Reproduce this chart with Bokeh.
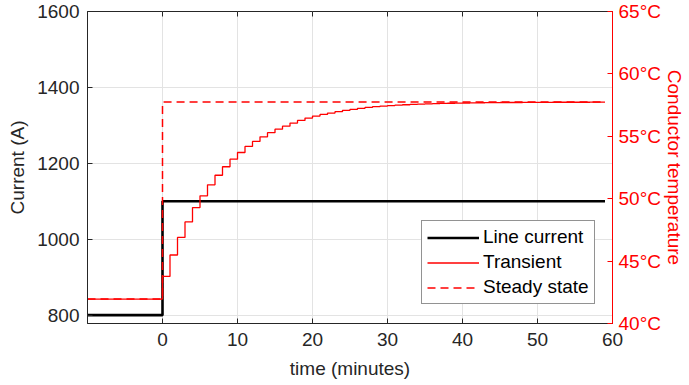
import math
from bokeh.plotting import figure
from bokeh.models import Range1d, LinearAxis, FixedTicker, PrintfTickFormatter, Legend, LegendItem
from bokeh.embed import file_html
from bokeh.resources import INLINE

# ---- data ----
x_ticks = [0, 10, 20, 30, 40, 50, 60]
current_ticks = [800, 1000, 1200, 1400, 1600]
temp_ticks = [40, 45, 50, 55, 60, 65]

current_times = [-10, 0, 59]
current_values = [800, 1100, 1100]

steady_times = [-10, 0, 59]
steady_temps = [41.96, 57.74, 57.74]

transient_times = [-10] + list(range(0, 60))
transient_temps = [41.96,
                   43.77, 45.49, 46.90, 48.14, 49.29, 50.23, 51.11, 51.88, 52.56, 53.17,
                   53.70, 54.19, 54.59, 54.96, 55.29, 55.57, 55.81, 56.06, 56.27, 56.46,
                   56.62, 56.75, 56.86, 56.97, 57.08, 57.16, 57.24, 57.31, 57.37, 57.42,
                   57.46, 57.50, 57.53, 57.56, 57.58, 57.60, 57.62, 57.64, 57.65, 57.66,
                   57.67, 57.68, 57.69, 57.70, 57.70, 57.71, 57.71, 57.71, 57.72, 57.72,
                   57.72, 57.72, 57.73, 57.73, 57.73, 57.73, 57.73, 57.74, 57.74, 57.74]

FONT = "Liberation Sans"
FS = "19px"
DARK = "#262626"
RED = "#ff0000"

x_lo, x_hi = -10, 60
y_lo, y_hi = 778, 1600

p = figure(width=689, height=385, x_range=Range1d(x_lo, x_hi), y_range=Range1d(y_lo, y_hi),
           output_backend="svg", toolbar_location=None,
           min_border_left=87, min_border_right=77, min_border_top=11, min_border_bottom=62)
p.extra_y_ranges = {"temp": Range1d(40, 65)}
p.outline_line_color = DARK
p.outline_line_width = 1
p.background_fill_color = "white"
p.border_fill_color = "white"

# bottom axis
xa = p.xaxis[0]
xa.ticker = FixedTicker(ticks=x_ticks)
xa.axis_label = "time (minutes)"
# left axis
ya = p.yaxis[0]
ya.ticker = FixedTicker(ticks=current_ticks)
ya.axis_label = "Current (A)"
for ax in (xa, ya):
    ax.major_tick_in = 5
    ax.major_tick_out = 0
    ax.minor_tick_line_color = None
    ax.axis_line_color = DARK
    ax.major_tick_line_color = DARK
    ax.major_label_text_color = DARK
    ax.major_label_text_font = FONT
    ax.major_label_text_font_size = FS
    ax.axis_label_text_font = FONT
    ax.axis_label_text_font_size = FS
    ax.axis_label_text_font_style = "normal"
    ax.axis_label_text_color = DARK
xa.major_label_standoff = 9
xa.axis_label_standoff = 9
ya.major_label_standoff = 8
ya.axis_label_standoff = 6

# right axis
ra = LinearAxis(y_range_name="temp", ticker=FixedTicker(ticks=temp_ticks),
                formatter=PrintfTickFormatter(format="%d°C"),
                axis_label="Conductor temperature")
ra.major_tick_in = 5
ra.major_tick_out = 0
ra.minor_tick_line_color = None
ra.axis_line_color = RED
ra.major_tick_line_color = RED
ra.major_label_text_color = RED
ra.major_label_text_font = FONT
ra.major_label_text_font_size = FS
ra.major_label_standoff = 6
ra.axis_label_text_font = FONT
ra.axis_label_text_font_size = FS
ra.axis_label_text_font_style = "normal"
ra.axis_label_text_color = RED
ra.axis_label_standoff = 0
p.add_layout(ra, "right")

p.xgrid.ticker = FixedTicker(ticks=x_ticks)
p.ygrid.ticker = FixedTicker(ticks=current_ticks)
for g in (p.xgrid, p.ygrid):
    g.grid_line_color = "#e3e3e3"
    g.grid_line_width = 1

# tick marks along the top edge of the box (clipped to the frame)
p.scatter(x_ticks, [y_hi] * len(x_ticks), marker="dash", angle=math.pi / 2, size=10,
          line_color=DARK, line_width=1)

r_cur = p.step(current_times, current_values, mode="after", line_color="black", line_width=2.6)
r_tr = p.step(transient_times, transient_temps, mode="after", line_color=RED, line_width=1.3,
              y_range_name="temp")
r_ss = p.step(steady_times, steady_temps, mode="after", line_color=RED, line_width=1.5,
              line_dash="8 5", y_range_name="temp")

legend = Legend(items=[LegendItem(label="Line current", renderers=[r_cur]),
                       LegendItem(label="Transient", renderers=[r_tr]),
                       LegendItem(label="Steady state", renderers=[r_ss])],
                location=(334, 19))
legend.label_text_font = FONT
legend.label_text_font_size = FS
legend.label_text_color = "black"
legend.glyph_width = 52
legend.glyph_height = 19
legend.label_height = 19
legend.spacing = 3
legend.padding = 5
legend.margin = 0
legend.label_standoff = 4
legend.border_line_color = DARK
legend.border_line_width = 1
legend.background_fill_color = "white"
legend.background_fill_alpha = 1
p.add_layout(legend)

html = file_html(p, INLINE)
open("out.html", "w").write(html)
